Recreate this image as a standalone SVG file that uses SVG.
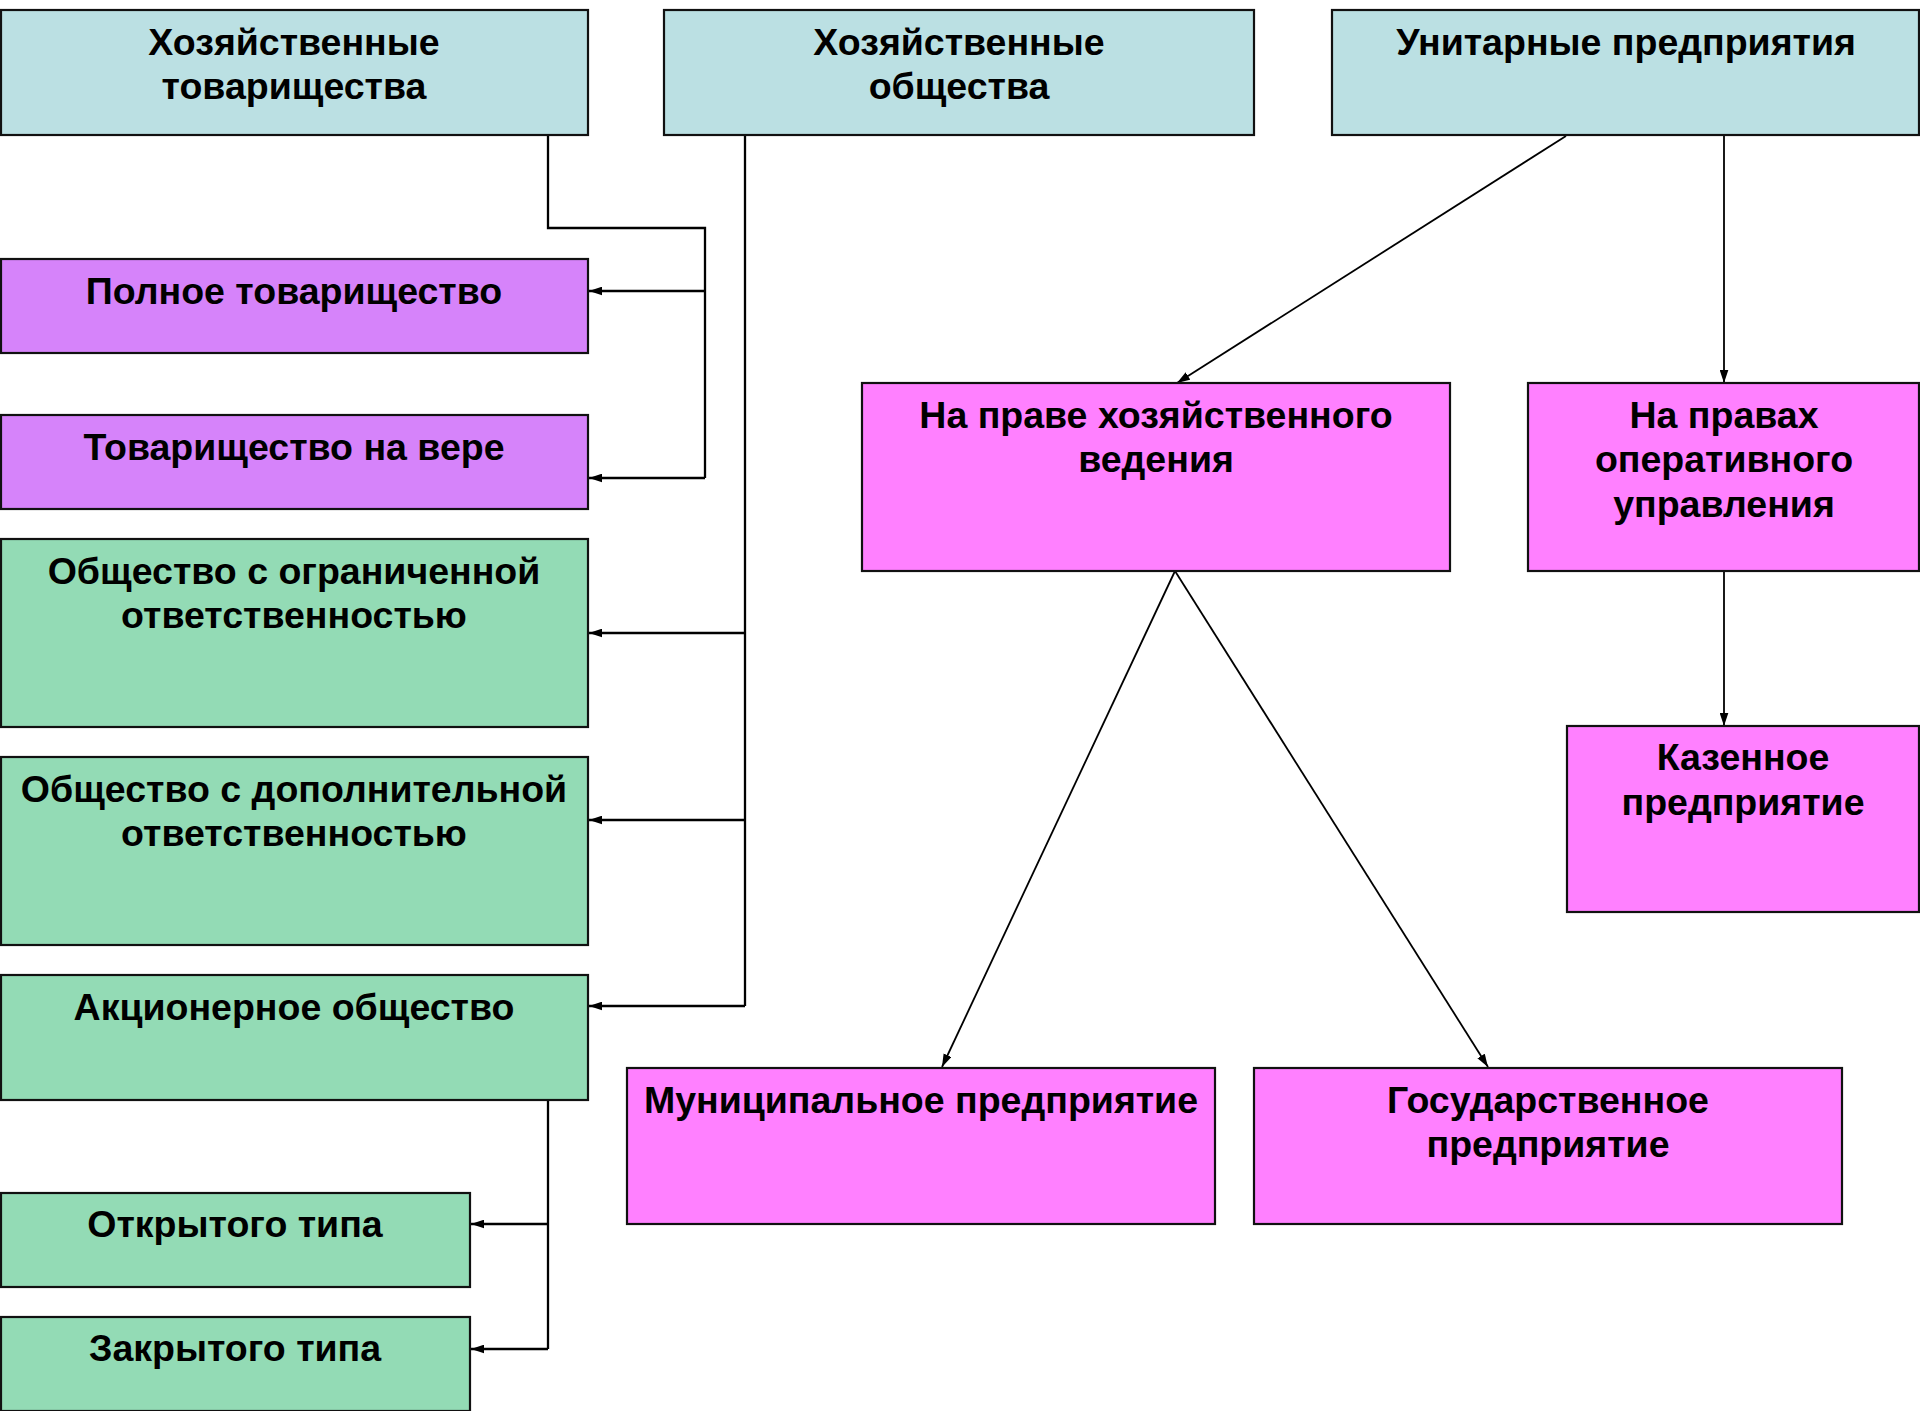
<svg xmlns="http://www.w3.org/2000/svg" width="1920" height="1411" viewBox="0 0 1920 1411">
<style>
.box{stroke:#111;stroke-width:2.2}
.hdr{fill:#BBE0E3}
.pur{fill:#D683FA}
.mag{fill:#FF80FF}
.grn{fill:#93DBB5}
text{font-family:"Liberation Sans",Arial,sans-serif;font-weight:bold;font-size:37.5px;fill:#000;text-anchor:middle}
.c{fill:none;stroke:#000;stroke-width:2.3}
.d{fill:none;stroke:#000;stroke-width:1.8}
</style>
<defs>
<marker id="ah" viewBox="0 0 12 8" refX="12" refY="4" markerWidth="13" markerHeight="9" markerUnits="userSpaceOnUse" orient="auto">
<path d="M0,0 L12,4 L0,8 z" fill="#000"/>
</marker>
</defs>
<rect width="1920" height="1411" fill="#fff"/>

<g id="connectors">
<polyline class="c" points="548,135 548,228 705,228 705,478"/>
<line class="c" x1="705" y1="291" x2="589" y2="291" marker-end="url(#ah)"/>
<line class="c" x1="705" y1="478" x2="589" y2="478" marker-end="url(#ah)"/>
<line class="c" x1="745" y1="135" x2="745" y2="1006"/>
<line class="c" x1="745" y1="633" x2="589" y2="633" marker-end="url(#ah)"/>
<line class="c" x1="745" y1="820" x2="589" y2="820" marker-end="url(#ah)"/>
<line class="c" x1="745" y1="1006" x2="589" y2="1006" marker-end="url(#ah)"/>
<polyline class="c" points="548,1100 548,1349"/>
<line class="c" x1="548" y1="1224" x2="471" y2="1224" marker-end="url(#ah)"/>
<line class="c" x1="548" y1="1349" x2="471" y2="1349" marker-end="url(#ah)"/>
<line class="d" x1="1566" y1="136" x2="1177" y2="383" marker-end="url(#ah)"/>
<line class="d" x1="1724" y1="136" x2="1724" y2="383" marker-end="url(#ah)"/>
<line class="d" x1="1175" y1="571" x2="942" y2="1067" marker-end="url(#ah)"/>
<line class="d" x1="1175" y1="571" x2="1488" y2="1067" marker-end="url(#ah)"/>
<line class="d" x1="1724" y1="571" x2="1724" y2="726" marker-end="url(#ah)"/>
</g>

<g id="n-hoz-tov"><rect class="box hdr" x="1" y="10" width="587" height="125"/><text x="294" y="55">Хозяйственные</text><text x="294" y="99">товарищества</text></g>
<g id="n-hoz-obsh"><rect class="box hdr" x="664" y="10" width="590" height="125"/><text x="959" y="55">Хозяйственные</text><text x="959" y="99">общества</text></g>
<g id="n-unit"><rect class="box hdr" x="1332" y="10" width="587" height="125"/><text x="1626" y="55">Унитарные предприятия</text></g>

<g id="n-polnoe"><rect class="box pur" x="1" y="259" width="587" height="94"/><text x="294" y="304">Полное товарищество</text></g>
<g id="n-vera"><rect class="box pur" x="1" y="415" width="587" height="94"/><text x="294" y="460">Товарищество на вере</text></g>

<g id="n-ooo"><rect class="box grn" x="1" y="539" width="587" height="188"/><text x="294" y="584">Общество с ограниченной</text><text x="294" y="628">ответственностью</text></g>
<g id="n-odo"><rect class="box grn" x="1" y="757" width="587" height="188"/><text x="294" y="802">Общество с дополнительной</text><text x="294" y="846">ответственностью</text></g>
<g id="n-ao"><rect class="box grn" x="1" y="975" width="587" height="125"/><text x="294" y="1020">Акционерное общество</text></g>
<g id="n-open"><rect class="box grn" x="1" y="1193" width="469" height="94"/><text x="235" y="1237">Открытого типа</text></g>
<g id="n-closed"><rect class="box grn" x="1" y="1317" width="469" height="94"/><text x="235" y="1361">Закрытого типа</text></g>

<g id="n-hozved"><rect class="box mag" x="862" y="383" width="588" height="188"/><text x="1156" y="428">На праве хозяйственного</text><text x="1156" y="472">ведения</text></g>
<g id="n-operupr"><rect class="box mag" x="1528" y="383" width="391" height="188"/><text x="1724" y="428">На правах</text><text x="1724" y="472">оперативного</text><text x="1724" y="517">управления</text></g>
<g id="n-kazen"><rect class="box mag" x="1567" y="726" width="352" height="186"/><text x="1743" y="770">Казенное</text><text x="1743" y="815">предприятие</text></g>
<g id="n-munic"><rect class="box mag" x="627" y="1068" width="588" height="156"/><text x="921" y="1113">Муниципальное предприятие</text></g>
<g id="n-gos"><rect class="box mag" x="1254" y="1068" width="588" height="156"/><text x="1548" y="1113">Государственное</text><text x="1548" y="1157">предприятие</text></g>
</svg>
